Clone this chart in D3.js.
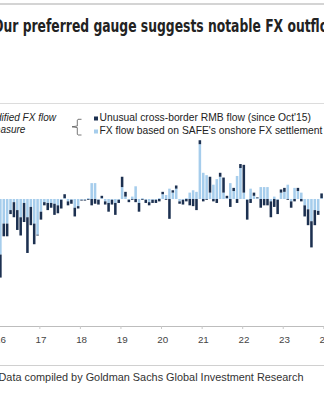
<!DOCTYPE html>
<html>
<head>
<meta charset="utf-8">
<script src="https://cdn.jsdelivr.net/npm/d3@7"></script>
<style>
  html, body { margin: 0; padding: 0; background: #fff; overflow: hidden; }
  svg { display: block; }
</style>
</head>
<body>
<div id="chart"></div>
<script>
// monthly flows Jan 2016 - Dec 2023, USD bn (one row per year)
var fxFlow = [
  -70, -31, -31, -14, -4, -14, -23, -5, -23, -10, -31, -45,
  -16, -4, -5, -5, -6, -8, -1, 1, -3, -1, -11, -9,
  -1, -1, 1, 20, 20, -1, 1, -3, -5, -1, -5, -1,
  15, 3, -1, 3, 16, -5, 1, -1, -4, -1, -1, 1,
  6, 5, 13, 8, 13, -3, -1, 1, 8, 11, 9, 69,
  33, 30, 8, 18, 25, 28, 8, 1, 20, 10, 29, 39,
  8, -1, 13, 4, 1, 15, 15, 15, -3, 3, -1, 8,
  9, 18, -3, 14, 10, 8, -8, -13, -28, -14, -15, 1
];
var unusualFlow = [
  -29, -16, -16, -5, -19, -25, -23, -24, -45, -23, -26, -1,
  -10, -4, -9, -6, -14, -10, -11, 5, -5, -5, -11, -3,
  -1, -1, -1, -8, -6, -6, 3, -4, -11, -6, -15, -4,
  13, 6, -3, -1, -4, -11, -1, -4, -4, -4, -4, -3,
  3, -1, -25, 3, 4, -3, -6, -3, -8, -9, -14, 5,
  -3, -1, 20, -3, -5, 5, 19, 3, -10, 4, -5, 5,
  35, -25, -5, 4, 1, -11, -8, -8, -20, -10, -18, 4,
  5, -1, -8, -3, 4, -3, -14, -20, -33, -19, -5, 6
];
var firstMonth = new Date(2016, 0, 1);
var tickYears = [2016, 2017, 2018, 2019, 2020, 2021, 2022, 2023, 2024];
var keys = ["fx", "unusual"];
var legendLabels = [
  "Unusual cross-border RMB flow (since Oct'15)",
  "FX flow based on SAFE's onshore FX settlement data"
];

var data = fxFlow.map(function (v, i) {
  return { month: d3.timeMonth.offset(firstMonth, i), fx: v, unusual: unusualFlow[i] };
});

var svg = d3.select("#chart").append("svg").attr("width", 324).attr("height", 393);

var left = -1.3, step = 3.381;
var right = left + data.length * step;

var x = d3
  .scaleBand()
  .domain(data.map((d) => d.month))
  .range([left, right])
  .paddingInner(0.25)
  .paddingOuter(0.125);

var xt = d3
  .scaleTime()
  .domain([firstMonth, new Date(2024, 0, 1)])
  .range([left, right]);

var y = d3.scaleLinear().domain([-160, 100]).range([326, 119.6]);

var z = d3.scaleOrdinal().domain(keys).range(["#a6cdec", "#1c3050"]);

// rules
svg.append("rect").attr("x", 0).attr("y", 3).attr("width", 324).attr("height", 2).attr("fill", "#d4d4d4");
svg.append("rect").attr("x", 0).attr("y", 103).attr("width", 324).attr("height", 1).attr("fill", "#dcdcdc");
svg.append("rect").attr("x", 0).attr("y", 365).attr("width", 324).attr("height", 1).attr("fill", "#d0d0d0");

// title (condensed face squeezed to the original width)
svg
  .append("text")
  .attr("x", -7)
  .attr("y", 31.5)
  .attr("textLength", 354)
  .attr("lengthAdjust", "spacingAndGlyphs")
  .style("font-family", "'Liberation Sans Narrow', 'DejaVu Sans Condensed', sans-serif")
  .style("font-weight", "bold")
  .style("font-size", "17.5px")
  .attr("fill", "#222")
  .text("Our preferred gauge suggests notable FX outflows");

// legend
var leg = svg.append("g").style("font-family", "'Liberation Sans', Arial, sans-serif");

leg.append("text").attr("x", -18).attr("y", 120.5).style("font-style", "italic").style("font-size", "10px").attr("fill", "#222").text("Modified FX flow");
leg.append("text").attr("x", -13.5).attr("y", 132.5).style("font-style", "italic").style("font-size", "10px").attr("fill", "#222").text("measure");

leg
  .append("path")
  .attr("d", "M81.5,119.3 L78,119.3 L77.3,120 L77.3,126 L72,126.8 L77.3,127.6 L77.3,134.3 L78,135 L81.5,135")
  .attr("fill", "none")
  .attr("stroke", "#555")
  .attr("stroke-width", 0.8);

var items = leg
  .selectAll("g.item")
  .data([keys[1], keys[0]])
  .enter()
  .append("g")
  .attr("class", "item")
  .attr("transform", (d, i) => `translate(94,${121 + i * 13})`);

items.append("rect").attr("x", 0).attr("y", -4.5).attr("width", 4).attr("height", 4).attr("fill", (d) => z(d));
items
  .append("text")
  .attr("x", 5.5)
  .attr("y", 0)
  .style("font-size", "10.3px")
  .attr("fill", "#222")
  .text((d, i) => legendLabels[i]);

// bars
var series = d3.stack().keys(keys).offset(d3.stackOffsetDiverging)(data);

var group = svg
  .selectAll("g.layer")
  .data(series)
  .enter()
  .append("g")
  .classed("layer", true)
  .attr("fill", (d) => z(d.key));

group
  .selectAll("rect")
  .data((d) => d)
  .enter()
  .append("rect")
  .attr("x", (d) => x(d.data.month))
  .attr("width", x.bandwidth())
  .attr("y", (d) => y(Math.max(d[0], d[1])))
  .attr("height", (d) => Math.abs(y(d[0]) - y(d[1])));

// x axis
var axis = svg
  .append("g")
  .attr("transform", "translate(0,326)")
  .call(
    d3
      .axisBottom(xt)
      .tickValues(tickYears.map((yr) => new Date(yr, 0, 1)))
      .tickFormat(d3.timeFormat("%y"))
      .tickSize(3)
      .tickPadding(7)
  );

axis.select(".domain").attr("d", "M0,0.5H324").attr("stroke", "#bdbdbd");
axis.selectAll(".tick line").attr("stroke", "#c8c8c8");
axis
  .selectAll(".tick text")
  .attr("dx", 1.2)
  .style("font-family", "'Liberation Sans', Arial, sans-serif")
  .style("font-size", "9.8px")
  .attr("fill", "#444");

// source
svg
  .append("text")
  .attr("x", -1.5)
  .attr("y", 381)
  .attr("textLength", 305)
  .attr("lengthAdjust", "spacingAndGlyphs")
  .style("font-family", "'Liberation Sans Narrow', 'Liberation Sans', sans-serif")
  .style("font-size", "11.5px")
  .attr("fill", "#333")
  .text("Data compiled by Goldman Sachs Global Investment Research");
</script>
</body>
</html>
